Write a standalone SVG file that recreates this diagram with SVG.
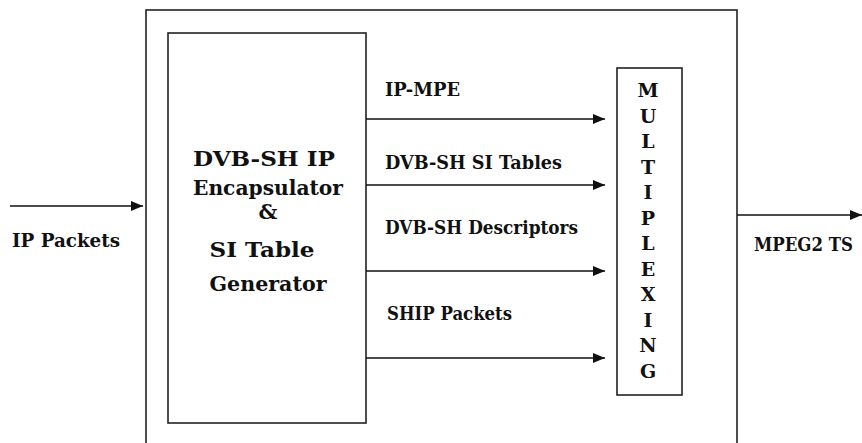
<svg xmlns="http://www.w3.org/2000/svg" width="862" height="443" viewBox="0 0 862 443">
  <style>
    .box { fill: none; stroke: #222; stroke-width: 1.6; }
    .conn { stroke: #111; stroke-width: 1.6; fill: none; marker-end: url(#arrow); }
    text { font-family: 'DejaVu Serif', serif; font-weight: bold; fill: #111; }
    .lbl { font-size: 18px; }
    .big { font-size: 21px; text-anchor: middle; }
    .mux { font-size: 19px; text-anchor: middle; }
  </style>
  <defs>
    <marker id="arrow" markerUnits="userSpaceOnUse" markerWidth="13" markerHeight="11" refX="12" refY="5" orient="auto">
      <path d="M0,0 L12,5 L0,10 z" fill="#111"/>
    </marker>
  </defs>
  <rect width="862" height="443" fill="#ffffff"/>

  <g id="outer">
    <rect class="box" x="146" y="10" width="591" height="445"/>
  </g>

  <g id="encapsulator">
    <rect class="box" x="168" y="33" width="198" height="390"/>
    <text class="big" x="264" y="166" textLength="142" lengthAdjust="spacingAndGlyphs">DVB-SH IP</text>
    <text class="big" x="268" y="195" textLength="150" lengthAdjust="spacingAndGlyphs">Encapsulator</text>
    <text class="big" x="268" y="219">&amp;</text>
    <text class="big" x="262" y="257" textLength="105" lengthAdjust="spacingAndGlyphs">SI Table</text>
    <text class="big" x="268" y="291" textLength="117" lengthAdjust="spacingAndGlyphs">Generator</text>
  </g>

  <g id="multiplexing">
    <rect class="box" x="617" y="68" width="65" height="327"/>
    <text class="mux" x="648" y="97">M</text>
    <text class="mux" x="648" y="122.5">U</text>
    <text class="mux" x="648" y="148">L</text>
    <text class="mux" x="648" y="173.5">T</text>
    <text class="mux" x="648" y="199">I</text>
    <text class="mux" x="648" y="224.5">P</text>
    <text class="mux" x="648" y="250">L</text>
    <text class="mux" x="648" y="275.5">E</text>
    <text class="mux" x="648" y="301">X</text>
    <text class="mux" x="648" y="326.5">I</text>
    <text class="mux" x="648" y="352">N</text>
    <text class="mux" x="648" y="377.5">G</text>
  </g>

  <g id="connectors">
    <line class="conn" x1="10" y1="206" x2="143" y2="206"/>
    <line class="conn" x1="366" y1="119" x2="605" y2="119"/>
    <line class="conn" x1="366" y1="185" x2="605" y2="185"/>
    <line class="conn" x1="366" y1="271" x2="605" y2="271"/>
    <line class="conn" x1="366" y1="358" x2="605" y2="358"/>
    <line class="conn" x1="737" y1="215" x2="862" y2="215"/>
  </g>

  <g id="labels">
    <text class="lbl" x="12" y="247" textLength="108" lengthAdjust="spacingAndGlyphs">IP Packets</text>
    <text class="lbl" x="385" y="96" textLength="75" lengthAdjust="spacingAndGlyphs">IP-MPE</text>
    <text class="lbl" x="385" y="169" textLength="177" lengthAdjust="spacingAndGlyphs">DVB-SH SI Tables</text>
    <text class="lbl" x="385" y="234" textLength="193" lengthAdjust="spacingAndGlyphs">DVB-SH Descriptors</text>
    <text class="lbl" x="387" y="320" textLength="125" lengthAdjust="spacingAndGlyphs">SHIP Packets</text>
    <text class="lbl" x="754" y="251" textLength="99" lengthAdjust="spacingAndGlyphs">MPEG2 TS</text>
  </g>
</svg>
